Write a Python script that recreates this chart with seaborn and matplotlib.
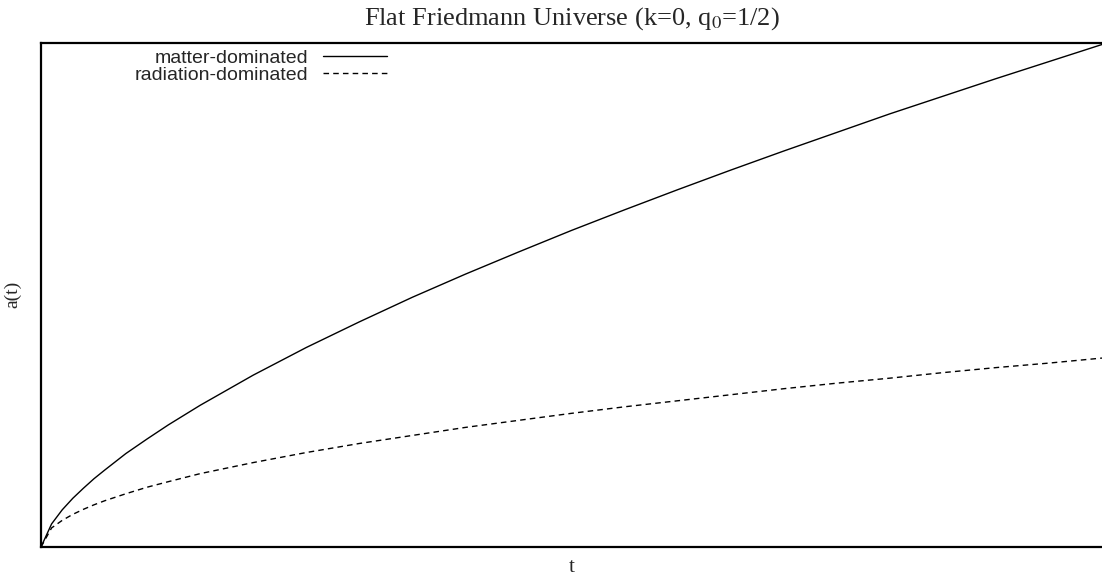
import numpy as np
import pandas as pd
import seaborn as sns
import matplotlib.pyplot as plt

# values (a(1) of the matter curve = 1)
t_vals = [0, 0.01, 0.02, 0.03, 0.04, 0.05, 0.06, 0.08, 0.10, 0.12, 0.15, 0.20, 0.25, 0.30, 0.35, 0.40,
          0.45, 0.50, 0.55, 0.60, 0.65, 0.70, 0.75, 0.80, 0.85, 0.90, 0.95, 1.00]
matter_a = [0, 0.046, 0.074, 0.097, 0.117, 0.136, 0.153, 0.186, 0.215, 0.243, 0.282, 0.342, 0.397,
            0.448, 0.497, 0.543, 0.587, 0.630, 0.671, 0.711, 0.750, 0.788, 0.825, 0.862, 0.897,
            0.932, 0.966, 1.000]
radiation_a = [0, 0.038, 0.053, 0.065, 0.075, 0.084, 0.092, 0.106, 0.119, 0.130, 0.146, 0.168, 0.188,
               0.206, 0.222, 0.238, 0.252, 0.266, 0.279, 0.291, 0.303, 0.315, 0.326, 0.336, 0.347,
               0.357, 0.366, 0.376]

sns.set_theme(style="white")
plt.rcParams['font.family'] = ['Liberation Serif', 'DejaVu Serif']
plt.rcParams['mathtext.fontset'] = 'stix'

fig = plt.figure(figsize=(11.02, 5.76), dpi=100)
ax = fig.add_axes([41 / 1102, 29 / 576, 1 - 41 / 1102, (547 - 42.5) / 576])

sns.lineplot(x=t_vals, y=matter_a, ax=ax, color="black", lw=1.0, label="matter-dominated")
sns.lineplot(x=t_vals, y=radiation_a, ax=ax, color="black", lw=1.0, label="radiation-dominated")
ax.lines[1].set_linestyle((0, (4, 3)))

ax.set_xlim(0, 1)
ax.set_ylim(0, 1.004)
ax.set_xticks([])
ax.set_yticks([])
for side in ["left", "top", "bottom"]:
    ax.spines[side].set_color("black")
    ax.spines[side].set_linewidth(1.6)
ax.spines["right"].set_visible(False)

ax.set_title("Flat Friedmann Universe (k=0, q$_0$=1/2)", fontsize=19, pad=13)
ax.set_xlabel("t", fontsize=15, labelpad=8)
ax.set_ylabel("a(t)", fontsize=14, labelpad=14)

leg = ax.legend(loc="upper right", bbox_to_anchor=(0.3336, 1.002), frameon=False,
                markerfirst=False, alignment="right", handlelength=3.3,
                handletextpad=0.77, labelspacing=-0.05, borderaxespad=0.0,
                prop={"family": "Liberation Sans", "size": 14})

fig.savefig("out.png", dpi=100)
